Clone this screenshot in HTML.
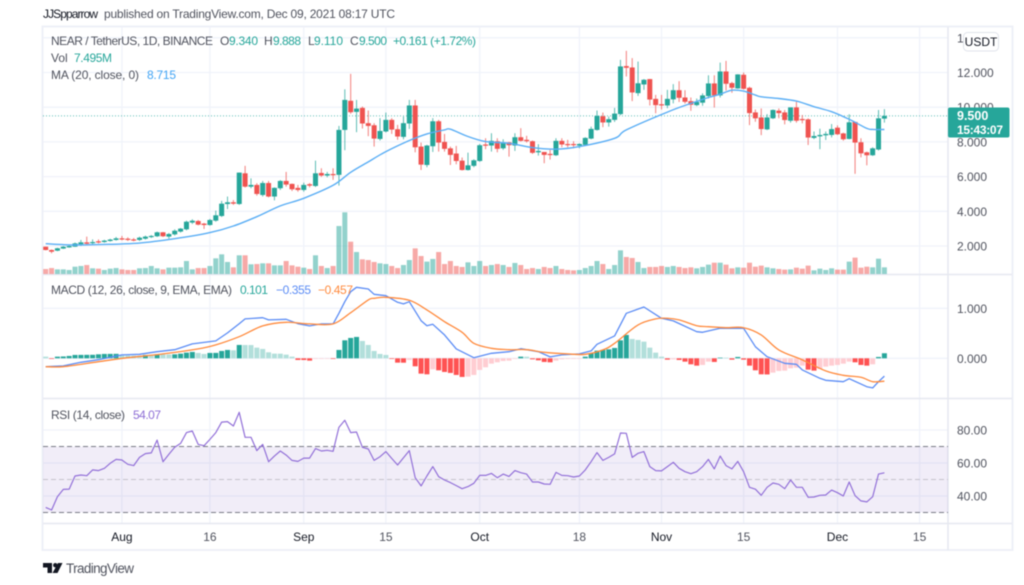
<!DOCTYPE html>
<html lang="en">
<head>
<meta charset="utf-8">
<title>NEAR / TetherUS chart</title>
<style>
html,body{margin:0;padding:0;background:#fff;}
svg{display:block;font-family:"Liberation Sans",sans-serif;filter:blur(0.45px);}
</style>
</head>
<body>
<svg id="chart" width="1024" height="585" viewBox="0 0 1024 585">
  <rect x="0" y="0" width="1024" height="585" fill="#fff"/>
  <g id="grid"></g>
  <rect x="42.5" y="26.5" width="970" height="523.5" fill="none" stroke="#eef0f7" stroke-width="2"/>
  <line x1="948" y1="27" x2="948" y2="550" stroke="#e6e8f0" stroke-width="1.5"/>
  <line x1="43" y1="274.5" x2="1012" y2="274.5" stroke="#e6e8f0" stroke-width="1.5"/>
  <line x1="43" y1="398.5" x2="1012" y2="398.5" stroke="#e6e8f0" stroke-width="1.5"/>
  <line x1="43" y1="523.5" x2="1012" y2="523.5" stroke="#e6e8f0" stroke-width="1.5"/>

  <g id="rsiBand"></g>
  <g id="volumes"></g>
  <g id="priceLine"></g>
  <g id="candles"></g>
  <g id="maLine"></g>
  <g id="hist"></g>
  <g id="macdLines"></g>
  <g id="rsiLine"></g>
  <g id="axisLabels" font-size="12" fill="#50535e"></g>

  <text x="43" y="18" font-size="12" fill="#131722" textLength="55" lengthAdjust="spacing">JJSpparrow</text>
  <text x="104" y="18" font-size="12" fill="#50535e" textLength="291" lengthAdjust="spacing">published on TradingView.com, Dec 09, 2021 08:17 UTC</text>

  <g font-size="12">
    <text x="51" y="45" fill="#50535e" textLength="162" lengthAdjust="spacing">NEAR / TetherUS, 1D, BINANCE</text>
    <text x="220" y="45" fill="#50535e">O</text>
    <text x="229" y="45" fill="#26a69a" textLength="29" lengthAdjust="spacing">9.340</text>
    <text x="264" y="45" fill="#50535e">H</text>
    <text x="273" y="45" fill="#26a69a" textLength="28" lengthAdjust="spacing">9.888</text>
    <text x="308" y="45" fill="#50535e">L</text>
    <text x="314" y="45" fill="#26a69a" textLength="29" lengthAdjust="spacing">9.110</text>
    <text x="350" y="45" fill="#50535e">C</text>
    <text x="359" y="45" fill="#26a69a" textLength="28" lengthAdjust="spacing">9.500</text>
    <text x="393" y="45" fill="#26a69a" textLength="83" lengthAdjust="spacing">+0.161 (+1.72%)</text>
    <text x="51" y="62" fill="#50535e">Vol</text>
    <text x="74" y="62" fill="#26a69a" textLength="38" lengthAdjust="spacing">7.495M</text>
    <text x="51" y="79" fill="#50535e" textLength="88" lengthAdjust="spacing">MA (20, close, 0)</text>
    <text x="147" y="79" fill="#42a5f5" textLength="29" lengthAdjust="spacing">8.715</text>
  </g>
  <g font-size="12">
    <text x="51" y="294" fill="#50535e" textLength="181" lengthAdjust="spacing">MACD (12, 26, close, 9, EMA, EMA)</text>
    <text x="240" y="294" fill="#26a69a" textLength="28" lengthAdjust="spacing">0.101</text>
    <text x="276" y="294" fill="#5b8cf5" textLength="35" lengthAdjust="spacing">−0.355</text>
    <text x="318" y="294" fill="#ff8a3d" textLength="35" lengthAdjust="spacing">−0.457</text>
  </g>
  <g font-size="12">
    <text x="51" y="419" fill="#50535e" textLength="74" lengthAdjust="spacing">RSI (14, close)</text>
    <text x="133" y="419" fill="#8e6fd6" textLength="28" lengthAdjust="spacing">54.07</text>
  </g>

  <g>
    <rect x="963.5" y="32.5" width="35" height="18.5" rx="4" fill="#fff" stroke="#e0e3eb"/>
    <text x="981" y="46" font-size="12" fill="#131722" text-anchor="middle">USDT</text>
  </g>

  <g>
    <rect x="948" y="107.5" width="61.5" height="30" rx="2" fill="#26a69a"/>
    <text x="957" y="120" font-size="12.5" font-weight="bold" fill="#fff">9.500</text>
    <text x="957" y="134" font-size="12" font-weight="bold" fill="#fff" textLength="46" lengthAdjust="spacing">15:43:07</text>
  </g>

  <g>
    <path d="M43 563h9v10h-4.5v-5.5H43z" fill="#131722"/>
    <circle cx="55.3" cy="565.2" r="2.2" fill="#131722"/>
    <path d="M58 563h4.5l-5 10h-5z" fill="#131722"/>
    <text x="66" y="573" font-size="13.5" fill="#50535e" textLength="68" lengthAdjust="spacing">TradingView</text>
  </g>
</svg>

<script>
const opens = [1.96,1.77,1.73,1.85,1.92,1.96,2.1,2.21,2.17,2.27,
2.23,2.29,2.35,2.44,2.42,2.38,2.35,2.42,2.52,2.56,
2.79,2.54,2.67,2.83,2.96,3.35,3.44,3.29,3.21,3.46,
3.73,4.42,4.52,4.42,6.19,5.42,5.52,4.94,5.63,4.85,
5.33,5.75,5.58,5.35,5.23,5.56,5.46,6.21,6.06,6.15,
6.1,8.69,10.37,9.73,9.96,9.08,8.96,8.17,8.6,9.27,
8.73,8.29,9.06,10.1,7.73,6.67,7.75,9.19,8,7.63,
7.33,6.92,6.38,6.62,6.9,7.85,7.79,8.04,7.63,7.98,
7.79,8.27,8.12,8.04,7.4,7.42,7.31,7.23,8.06,7.88,
7.88,7.79,7.83,8.19,8.69,9.48,9.12,9.27,9.6,12.37,
12.29,10.81,11.31,11.62,10.48,10.17,10.1,10.45,10.98,10.56,
10.35,10.12,10.26,10.64,11.37,10.68,12.06,11.39,11.08,11.87,
11.12,9.7,9.41,8.72,9.36,9.8,9.7,9.22,9.99,9.32,
9.3,8.23,8.32,8.38,8.4,8.82,8.49,8.17,9.15,7.98,
7.4,7.23,7.56,9.34];
const highs = [1.96,1.8,1.9,2.0,2.03,2.2,2.35,2.54,2.38,2.38,
2.36,2.42,2.52,2.58,2.5,2.46,2.54,2.6,2.63,2.83,
2.81,2.75,2.96,3.04,3.46,3.54,3.5,3.33,3.56,4.04,
4.6,4.85,4.65,6.23,6.62,5.9,5.62,5.75,5.75,5.38,
5.8,6.27,5.6,5.52,5.65,5.63,6.92,6.48,6.27,6.48,
8.92,11.03,11.92,10.42,10.04,9.81,9.08,9.37,9.69,9.37,
8.98,9.46,10.42,10.42,7.96,7.83,9.37,9.27,8.46,7.73,
7.77,7.1,7.38,7.0,7.88,8.21,8.5,8.21,8.15,8.0,
8.5,8.79,8.35,8.08,7.87,7.42,7.54,8.21,8.21,8.12,
8.04,7.92,8.27,8.88,9.81,9.69,9.46,9.96,12.73,13.25,
12.83,12.63,11.62,11.63,10.71,10.71,11.0,11.33,11.5,10.98,
10.56,10.5,10.8,11.84,11.84,12.57,12.67,11.46,11.9,12.0,
11.18,9.87,9.93,9.6,9.87,9.93,9.84,9.99,10.32,9.55,
9.36,8.6,8.76,8.6,9.03,8.95,8.53,9.59,9.17,8.21,
7.44,7.69,9.84,9.888];
const lows = [1.75,1.58,1.7,1.83,1.9,1.95,2.0,2.06,2.06,2.15,
2.19,2.25,2.31,2.33,2.29,2.27,2.29,2.37,2.46,2.52,
2.52,2.42,2.6,2.77,2.9,3.27,3.19,2.98,3.17,3.4,
3.67,4.13,4.37,4.37,5.37,5.33,4.9,4.85,4.8,4.63,
5.23,5.42,5.17,5.13,5.13,5.38,5.4,5.98,5.96,5.81,
5.48,7.52,9.62,8.56,8.77,8.33,7.73,8.08,8.54,8.46,
8.12,8.15,8.75,7.4,6.38,6.54,7.42,7.44,7.44,6.67,
6.71,6.35,6.35,6.54,6.85,7.58,7.44,7.4,7.54,7.15,
7.48,8.02,7.96,7.31,7.21,6.77,6.98,7.19,7.69,7.69,
7.63,7.63,7.77,8.15,8.65,8.85,8.88,9.15,9.54,11.77,
10.35,10.65,11.0,10.1,9.65,9.87,9.94,10.22,10.3,10.21,
9.79,10.06,10.08,10.5,9.98,10.56,10.96,10.83,11.06,11.02,
8.97,9.16,8.39,8.68,9.32,9.36,9.01,9.11,9.11,9.07,
7.82,8.16,7.58,8.11,8.26,8.4,8.07,8.15,6.16,7.11,
6.65,7.19,7.5,9.11];
const closes = [1.77,1.67,1.87,1.96,2.0,2.15,2.21,2.13,2.23,2.21,
2.31,2.37,2.44,2.38,2.35,2.33,2.48,2.54,2.58,2.79,
2.56,2.69,2.88,3.0,3.4,3.46,3.23,3.21,3.5,3.77,
4.44,4.52,4.44,6.23,5.42,5.52,5.0,5.63,4.85,5.35,
5.75,5.54,5.27,5.23,5.52,5.48,6.19,6.06,6.15,6.12,
8.69,10.42,9.71,9.92,9.06,8.92,8.19,8.63,9.27,8.71,
8.31,9.08,10.1,7.69,6.69,7.79,9.19,7.96,7.6,7.25,
6.9,6.38,6.65,6.94,7.81,7.79,8.06,7.6,7.98,7.81,
8.27,8.06,8.04,7.37,7.48,7.25,7.25,8.06,7.85,7.83,
7.81,7.88,8.23,8.75,9.5,9.12,9.31,9.63,12.35,12.27,
10.85,11.38,11.58,10.44,10.12,10.12,10.48,10.98,10.54,10.31,
10.14,10.31,10.68,11.37,10.68,12.06,11.35,11.12,11.89,11.06,
9.66,9.36,8.74,9.41,9.84,9.66,9.26,9.99,9.22,9.26,
8.25,8.34,8.4,8.46,8.74,8.44,8.15,9.13,7.96,7.34,
7.23,7.63,9.36,9.5];
const volumes = [5.6,6.7,5.2,5.2,4.5,8.2,9,10.1,6.4,6,
4.5,6,6.7,5.2,4.5,4.5,6.4,6.7,9,6.4,
5.2,7.1,7.1,7.5,14.6,5.2,6.7,6.7,9,17.6,
22.1,13.5,7.5,21,21,10.9,11.2,12,12,9.7,
9.7,14.6,9.7,8.2,7.1,5.6,21,9,6.7,9,
53.9,69.3,36.3,24.7,16.5,15.7,13.5,12,11.2,9,
6.7,10.1,15.7,28.8,20.2,13.9,16.9,24.7,11.2,14.6,
9,7.9,13.1,9,14.6,9,10.1,11.2,10.1,7.9,
12.4,10.1,5.6,6.7,5.6,7.9,6.7,9,5.6,4.5,
4.1,4.5,6.7,9,14.6,11.2,5.6,10.1,26.6,19.1,
18,13.5,6.7,7.9,7.9,9,7.9,9,7.9,6.7,
7.5,6.4,7.9,10.5,12.7,12.7,10.5,6.4,7.5,7.1,
12.7,8.2,9.4,7.5,6.4,5.6,4.9,5.2,7.1,6,
9.4,4.1,6,4.5,6.4,4.9,4.9,13.9,18.4,7.1,
8.2,7.5,17.2,7.495];
const maDays = [0,5,11,16,22,28,32,36,40,44,49,52,55,58,62,65,68,69,72,75,79,83,87,91,97,99,106,110,113,115,117,119,121,122,125,128,131,134,137,140,141,143];
const maValues = [2.13,2.06,2.1,2.17,2.42,2.77,3.15,3.69,4.31,4.75,5.5,6.25,6.85,7.44,8.08,8.46,8.69,8.73,8.31,8.02,7.92,7.67,7.58,7.73,8.21,8.69,9.72,10.22,10.56,10.75,10.98,10.93,10.7,10.6,10.5,10.35,10.03,9.74,9.3,8.78,8.72,8.715];
const macdDays = [0,3,6,9,13,16,19,22,25,29,31,33,34,37,38,41,43,45,47,49,50,51,52,53,55,56,58,60,61,62,64,65,66,68,70,73,76,79,81,84,86,88,91,93,94,97,99,102,105,107,111,112,115,117,119,121,123,126,128,129,132,133,136,137,140,141,142,143];
const macdValues = [-0.167,-0.153,-0.08,-0.027,0.067,0.08,0.133,0.173,0.287,0.347,0.507,0.693,0.787,0.813,0.767,0.78,0.693,0.647,0.687,0.687,0.9,1.133,1.333,1.42,1.387,1.28,1.253,1.12,1.087,1.133,0.753,0.653,0.68,0.467,0.187,0.013,0.1,0.133,0.193,0.133,0.027,0.067,0.087,0.147,0.28,0.447,0.9,1.027,0.8,0.747,0.533,0.52,0.6,0.6,0.6,0.233,0.033,-0.1,-0.12,-0.233,-0.4,-0.44,-0.467,-0.407,-0.567,-0.593,-0.467,-0.355];
const signalDays = [0,3,9,14,20,26,29,33,37,41,45,49,52,55,56,58,62,65,68,71,73,76,79,82,85,89,92,95,97,101,104,106,108,111,113,116,119,122,125,129,133,136,139,141,143];
const signalValues = [-0.167,-0.167,-0.067,0.013,0.087,0.187,0.267,0.433,0.647,0.72,0.687,0.687,0.913,1.167,1.2,1.22,1.16,0.967,0.733,0.52,0.3,0.2,0.173,0.173,0.12,0.087,0.08,0.167,0.3,0.667,0.787,0.8,0.767,0.653,0.633,0.613,0.613,0.467,0.167,-0.033,-0.253,-0.34,-0.38,-0.467,-0.457];
const histValues = [0.033,-0.013,0.033,0.037,0.047,0.067,0.068,0.069,0.07,0.08,
0.087,0.088,0.089,0.057,0.055,0.053,0.052,0.067,0.053,0.08,
0.078,0.076,0.08,0.093,0.113,0.127,0.107,0.087,0.107,0.108,
0.147,0.167,0.16,0.267,0.266,0.265,0.213,0.187,0.12,0.093,
0.092,0.073,0.033,-0.033,-0.034,-0.047,-0.013,-0.012,-0.011,-0.013,
0.167,0.36,0.407,0.427,0.347,0.267,0.147,0.087,0.067,-0.013,
-0.087,-0.088,-0.033,-0.16,-0.307,-0.32,-0.22,-0.24,-0.273,-0.293,
-0.333,-0.373,-0.367,-0.333,-0.233,-0.18,-0.107,-0.08,-0.053,-0.047,
-0.013,0.033,0.032,-0.02,-0.04,-0.073,-0.08,-0.047,-0.02,-0.014,
-0.013,-0.012,0.033,0.1,0.153,0.167,0.18,0.207,0.36,0.467,
0.387,0.367,0.333,0.213,0.113,0.033,-0.027,-0.02,-0.033,-0.067,
-0.12,-0.147,-0.133,-0.067,-0.073,0.013,0.012,-0.027,0.027,-0.027,
-0.147,-0.24,-0.32,-0.323,-0.287,-0.253,-0.247,-0.2,-0.187,-0.147,
-0.227,-0.247,-0.213,-0.167,-0.147,-0.133,-0.107,-0.067,-0.08,-0.133,
-0.147,-0.12,0.027,0.101];
const rsiValues = [33.1,31.5,39.6,44,44.2,52.1,52.7,52.3,55.8,55.4,
56.8,59.8,62.2,61.8,59.2,58.4,63.4,65.7,66.1,73.9,
60.8,65.3,69.5,71.9,78.4,79.4,71.3,70.5,74.3,78.4,
84.8,85.1,82.4,90.7,75.6,75.6,67.5,71.3,60.8,64.2,
67.3,64.8,61.6,61,63,63,68.7,67.3,67.7,67.1,
81.6,85.9,78.4,78.8,69.5,68.5,61.6,63.8,66.9,62.8,
58.8,63.2,67.5,51.1,46.1,52.1,57.8,51.7,49.7,48.1,
46.3,44.4,45.7,47.7,52.5,52.5,53.7,51.1,53.3,51.9,
55.4,54.1,53.3,48.5,48.5,47.3,47.1,54.3,52.5,52.3,
51.5,52.1,55.8,60.8,66.3,61.6,63.4,65.5,78.2,78,
63.4,65.9,66.9,57.8,55.4,55.2,57.8,60.4,56.8,54.7,
53.5,54.7,57.8,62.2,56.4,64.2,58.4,56.4,61,54.7,
45.3,44.1,40.4,45.3,47.9,47.1,44.4,49.7,45.3,45.3,
39.2,39.4,40.4,40.6,43.6,42,40,48.5,40.2,37,
36.4,39.6,53.3,54.07];
const lastClose = 9.5;
const priceTicks = ["14.000","12.000","10.000","8.000","6.000","4.000","2.000"];
const macdTicks = ["1.000","0.000"];
const rsiTicks = ["80.00","60.00","40.00"];
const rsiLevels = [70,50,30];
const timeLabels = ["Aug","16","Sep","15","Oct","18","Nov","15","Dec","15"];
const timeDays = [13,28,44,58,74,91,105,119,135,149];

const SVG_NS = 'http://www.w3.org/2000/svg';
const PLOT_LEFT = 43, PLOT_RIGHT = 948;
const BAR_W = 5;
const xOf = i => 45.7 + 5.865 * i;
const yPrice = p => 246 - (p - 2) * 17.35;
const yVolume = v => 274 - v * 0.89;
const yMacd = v => 358.3 - v * 50;
const yRsi = v => 430 + (80 - v) * 1.65;

function make(tag, attrs, parent) {
  const el = document.createElementNS(SVG_NS, tag);
  for (const k in attrs) el.setAttribute(k, attrs[k]);
  parent.appendChild(el);
  return el;
}
const $ = id => document.getElementById(id);

/* grid */
priceTicks.forEach(t => {
  const el = make('line', {x1: PLOT_LEFT, x2: PLOT_RIGHT, y1: yPrice(parseFloat(t)), y2: yPrice(parseFloat(t)), stroke: '#f0f3fa', 'stroke-width': 1.3}, $('grid'));
  
  
});
macdTicks.forEach(t => {
  const el = make('line', {x1: PLOT_LEFT, x2: PLOT_RIGHT, y1: yMacd(parseFloat(t)), y2: yMacd(parseFloat(t)), stroke: '#f0f3fa', 'stroke-width': 1.3}, $('grid'));
  
  
});
rsiTicks.forEach(t => {
  const el = make('line', {x1: PLOT_LEFT, x2: PLOT_RIGHT, y1: yRsi(parseFloat(t)), y2: yRsi(parseFloat(t)), stroke: '#f0f3fa', 'stroke-width': 1.3}, $('grid'));
  
  
});
timeDays.forEach(d => {
  const el = make('line', {x1: xOf(d), x2: xOf(d), y1: 27, y2: 523, stroke: '#f0f3fa', 'stroke-width': 1.3}, $('grid'));
  
  
});

/* RSI band */
const band = make('rect', {x: PLOT_LEFT, y: yRsi(rsiLevels[0]), width: PLOT_RIGHT - PLOT_LEFT, height: yRsi(rsiLevels[2]) - yRsi(rsiLevels[0]), fill: 'rgba(126,87,194,0.11)'}, $('rsiBand'));


rsiLevels.forEach((lv, n) => {
  const el = make('line', {x1: PLOT_LEFT, x2: PLOT_RIGHT, y1: yRsi(lv), y2: yRsi(lv), stroke: n === 1 ? '#c4c2cc' : '#787b86', 'stroke-width': 1, 'stroke-dasharray': '5 3'}, $('rsiBand'));
  
  
});

/* volume bars */
volumes.forEach((v, i) => {
  const up = closes[i] >= opens[i];
  const el = make('rect', {x: xOf(i) - BAR_W / 2, y: yVolume(v), width: BAR_W, height: 274 - yVolume(v), fill: up ? 'rgba(38,166,154,0.5)' : 'rgba(239,83,80,0.5)'}, $('volumes'));
  
  
});

/* last price line */
const pl = make('line', {x1: PLOT_LEFT, x2: PLOT_RIGHT, y1: yPrice(lastClose), y2: yPrice(lastClose), stroke: '#26a69a', 'stroke-width': 1, 'stroke-dasharray': '1 2', opacity: 0.75}, $('priceLine'));



/* candles */
opens.forEach((o, i) => {
  const c = closes[i], up = c >= o, col = up ? '#26a69a' : '#ef5350';
  const g = make('g', {}, $('candles'));
  
  
  const w = make('line', {x1: xOf(i), x2: xOf(i), y1: yPrice(highs[i]), y2: yPrice(lows[i]), stroke: col, 'stroke-width': 1, opacity: 0.75}, g);
  
  
  const top = Math.min(yPrice(o), yPrice(c));
  const h = Math.max(1.2, Math.abs(yPrice(o) - yPrice(c)));
  const b = make('rect', {x: xOf(i) - BAR_W / 2, y: top, width: BAR_W, height: h, fill: col}, g);
  
  
});

/* line helpers */
function pathFrom(days, vals, yFn) {
  return days.map((d, n) => (n ? 'L' : 'M') + xOf(d).toFixed(1) + ' ' + yFn(vals[n]).toFixed(1)).join('');
}
function smoothPath(days, vals, yFn) {
  const pts = days.map((d, n) => [xOf(d), yFn(vals[n])]);
  let d = 'M' + pts[0][0].toFixed(1) + ' ' + pts[0][1].toFixed(1);
  for (let n = 0; n < pts.length - 1; n++) {
    const p0 = pts[Math.max(n - 1, 0)], p1 = pts[n], p2 = pts[n + 1], p3 = pts[Math.min(n + 2, pts.length - 1)];
    const c1x = p1[0] + (p2[0] - p0[0]) / 6, c1y = p1[1] + (p2[1] - p0[1]) / 6;
    const c2x = p2[0] - (p3[0] - p1[0]) / 6, c2y = p2[1] - (p3[1] - p1[1]) / 6;
    d += 'C' + c1x.toFixed(1) + ' ' + c1y.toFixed(1) + ' ' + c2x.toFixed(1) + ' ' + c2y.toFixed(1) + ' ' + p2[0].toFixed(1) + ' ' + p2[1].toFixed(1);
  }
  return d;
}

/* MA */
const ma = make('path', {d: smoothPath(maDays, maValues, yPrice), fill: 'none', stroke: '#5aaef5', 'stroke-width': 1.4, 'stroke-linejoin': 'round'}, $('maLine'));



/* MACD histogram */
histValues.forEach((h, i) => {
  const prev = i ? histValues[i - 1] : h;
  const col = h >= 0 ? (h > prev ? '#26a69a' : '#b2dfdb') : (h < prev ? '#ff5252' : '#ffcdd2');
  const y0 = yMacd(0), y1 = yMacd(h);
  const el = make('rect', {x: xOf(i) - BAR_W / 2, y: Math.min(y0, y1), width: BAR_W, height: Math.abs(y1 - y0), fill: col}, $('hist'));
  
  
});

/* MACD lines */
const ml = make('path', {d: pathFrom(macdDays, macdValues, yMacd), fill: 'none', stroke: '#5b8cf5', 'stroke-width': 1.3, 'stroke-linejoin': 'round'}, $('macdLines'));


const sl = make('path', {d: smoothPath(signalDays, signalValues, yMacd), fill: 'none', stroke: '#ff8a3d', 'stroke-width': 1.3, 'stroke-linejoin': 'round'}, $('macdLines'));



/* RSI */
const rsiDays = rsiValues.map((_, i) => i);
const rl = make('path', {d: pathFrom(rsiDays, rsiValues, yRsi), fill: 'none', stroke: '#9270d8', 'stroke-width': 1.2, 'stroke-linejoin': 'round'}, $('rsiLine'));



/* axis labels */
function axisText(txt, x, y, anchor, fill) {
  const el = make('text', {x: x, y: y, 'text-anchor': anchor, fill: fill}, $('axisLabels'));
  el.textContent = txt;
  return el;
}
priceTicks.forEach(t => {
  const el = axisText(t, 957, yPrice(parseFloat(t)) + 4.5, 'start', '#50535e');
  
  
});
macdTicks.forEach(t => {
  const el = axisText(t, 957, yMacd(parseFloat(t)) + 4.5, 'start', '#50535e');
  
  
});
rsiTicks.forEach(t => {
  const el = axisText(t, 957, yRsi(parseFloat(t)) + 4.5, 'start', '#50535e');
  
  
});
timeLabels.forEach((t, n) => {
  const el = axisText(t, xOf(timeDays[n]), 541, 'middle', /[A-Za-z]/.test(t) ? '#131722' : '#50535e');
  
  
});
</script>
</body>
</html>
